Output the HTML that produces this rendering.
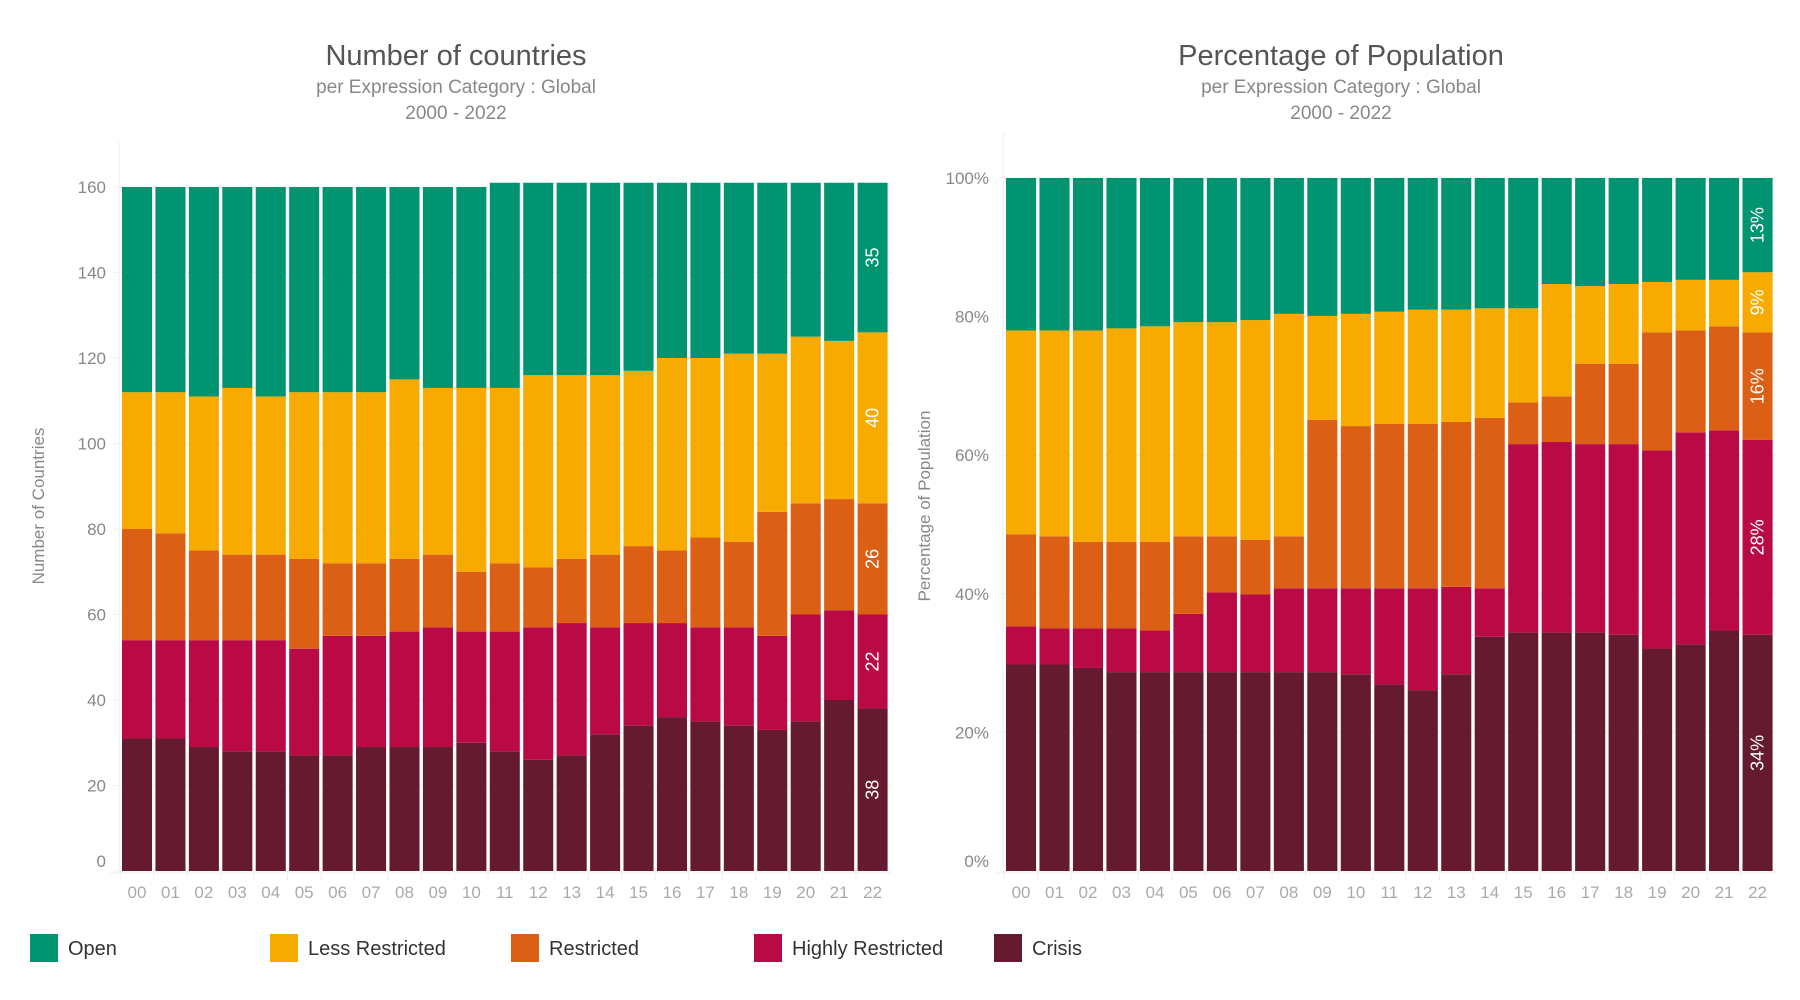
<!DOCTYPE html>
<html><head><meta charset="utf-8"><style>
body{margin:0;width:1800px;height:1000px;background:#fff;font-family:"Liberation Sans",sans-serif;overflow:hidden}
svg{display:block}
</style></head><body>
<svg id="s" width="1800" height="1000">
<g>
<text x="456" y="65" text-anchor="middle" font-size="29" fill="#555">Number of countries</text>
<text x="456" y="93" text-anchor="middle" font-size="19" fill="#888">per Expression Category : Global</text>
<text x="456" y="119" text-anchor="middle" font-size="19" fill="#888">2000 - 2022</text>
</g>
<g>
<text x="1341" y="65" text-anchor="middle" font-size="29" fill="#555">Percentage of Population</text>
<text x="1341" y="93" text-anchor="middle" font-size="19" fill="#888">per Expression Category : Global</text>
<text x="1341" y="119" text-anchor="middle" font-size="19" fill="#888">2000 - 2022</text>
</g>
<text transform="translate(44,506) rotate(-90)" text-anchor="middle" font-size="17" fill="#888">Number of Countries</text>
<text transform="translate(930,506) rotate(-90)" text-anchor="middle" font-size="17" fill="#888">Percentage of Population</text>
<g id="left"></g>
<g id="right"></g>
<g id="legend"></g>
</svg>
<script>
const years=["00","01","02","03","04","05","06","07","08","09","10","11","12","13","14","15","16","17","18","19","20","21","22"];
const seriesNames=["Crisis","Highly Restricted","Restricted","Less Restricted","Open"];
const colors=["#661a30","#ba0a45","#db6015","#f7aa00","#009470"];
// Number of countries
const cCrisis=[31,31,29,28,28,27,27,29,29,29,30,28,26,27,32,34,36,35,34,33,35,40,38];
const cHigh=[23,23,25,26,26,25,28,26,27,28,26,28,31,31,25,24,22,22,23,22,25,21,22];
const cRestr=[26,25,21,20,20,21,17,17,17,17,14,16,14,15,17,18,17,21,20,29,26,26,26];
const cLess=[32,33,36,39,37,39,40,40,42,39,43,41,45,43,42,41,45,42,44,37,39,37,40];
const cOpen=[48,48,49,47,49,48,48,48,45,47,47,48,45,45,45,44,41,41,40,40,36,37,35];
const leftTicks=[0,20,40,60,80,100,120,140,160];
const leftLabels=["38","22","26","40","35"];
// Percentage of population
const pCrisis=[29.8,29.8,29.3,28.7,28.7,28.7,28.7,28.7,28.7,28.7,28.4,26.9,26.1,28.4,33.8,34.4,34.4,34.4,34.1,32.1,32.7,34.7,34.1];
const pHigh=[5.5,5.2,5.7,6.3,6.0,8.4,11.5,11.2,12.1,12.1,12.4,13.9,14.7,12.6,7.0,27.2,27.5,27.2,27.5,28.6,30.6,28.9,28.1];
const pRestr=[13.3,13.3,12.5,12.5,12.8,11.2,8.1,7.9,7.5,24.3,23.4,23.7,23.7,23.8,24.6,6.0,6.6,11.6,11.6,17.0,14.7,15.0,15.5];
const pLess=[29.4,29.7,30.5,30.8,31.1,30.9,30.9,31.7,32.1,15.0,16.2,16.2,16.5,16.2,15.8,13.6,16.2,11.2,11.5,7.3,7.3,6.7,8.7];
const pOpen=[22.0,22.0,22.0,21.7,21.4,20.8,20.8,20.5,19.6,19.9,19.6,19.3,19.0,19.0,18.8,18.8,15.3,15.6,15.3,15.0,14.7,14.7,13.6];
const rightTicks=[0,20,40,60,80,100];
const rightLabels=["34%","28%","16%","9%","13%"];

const NS="http://www.w3.org/2000/svg";
function mk(tag,attrs,parent){const e=document.createElementNS(NS,tag);for(const k in attrs)e.setAttribute(k,attrs[k]);parent.appendChild(e);return e;}

function drawChart(g,series,x0,x1,yBottom,yTop,maxV,ticks,tickFmt,tickX,labels,prefix){
  const yScale=v=>yBottom-(v/maxV)*(yBottom-yTop);
  const pitch=(x1-x0)/years.length, bw=pitch-3.4;
  const xScale=i=>x0+i*pitch;
  ticks.forEach(t=>{
    const l=mk('line',{x1:x0-8,x2:x1,y1:yScale(t),y2:yScale(t),stroke:'#f0f0f0','stroke-width':1},g);
    
    
    const tx=mk('text',{x:tickX,y:yScale(t)+(t===0?-4:6),'text-anchor':'end','font-size':17,fill:'#888'},g);
    tx.textContent=tickFmt(t);
    
    
  });
  const ax=mk('line',{x1:x0-3,x2:x0-3,y1:yTop-45,y2:yBottom+2,stroke:'#eee','stroke-width':1},g);
  
  
  const bx=mk('line',{x1:x0-12,x2:x1,y1:yBottom+2,y2:yBottom+2,stroke:'#eee','stroke-width':1},g);
  
  
  years.forEach((yr,i)=>{
    let cum=0;
    series.forEach((arr,s)=>{
      const v=arr[i];
      const r=mk('rect',{x:xScale(i),y:yScale(cum+v),width:bw,height:yScale(cum)-yScale(cum+v),fill:colors[s]},g);
      
      
      if(i===years.length-1){
        const cx=xScale(i)+bw/2, cy=(yScale(cum)+yScale(cum+v))/2;
        const t=mk('text',{x:cx,y:cy,transform:`rotate(-90 ${cx} ${cy})`,'text-anchor':'middle','dominant-baseline':'central','font-size':18,fill:'#fff'},g);
        t.textContent=labels[s];
        
        
      }
      cum+=v;
    });
    const tk=mk('line',{x1:xScale(i)-1.7,x2:xScale(i)-1.7,y1:yBottom+3,y2:yBottom+9,stroke:'#eee'},g);
    
    
    const xl=mk('text',{x:xScale(i)+bw/2,y:yBottom+27,'text-anchor':'middle','font-size':17,fill:'#aaa'},g);
    xl.textContent=yr;
    
    
  });
}
drawChart(document.getElementById('left'),[cCrisis,cHigh,cRestr,cLess,cOpen],122,891,871,187,160,leftTicks,t=>String(t),106,leftLabels,'countries');
drawChart(document.getElementById('right'),[pCrisis,pHigh,pRestr,pLess,pOpen],1006,1776,871,178,100,rightTicks,t=>t+'%',989,rightLabels,'population');

const legendNames=["Open","Less Restricted","Restricted","Highly Restricted","Crisis"];
const legendColors=["#009470","#f7aa00","#db6015","#ba0a45","#661a30"];
const legendX=[30,270,511,754,994];
const lg=document.getElementById('legend');
legendNames.forEach((n,i)=>{
  const r=mk('rect',{x:legendX[i],y:934,width:28,height:28,fill:legendColors[i]},lg);
  
  
  const t=mk('text',{x:legendX[i]+38,y:955,'font-size':20,fill:'#333'},lg);
  t.textContent=n;
  
  
});
</script>
</body></html>
